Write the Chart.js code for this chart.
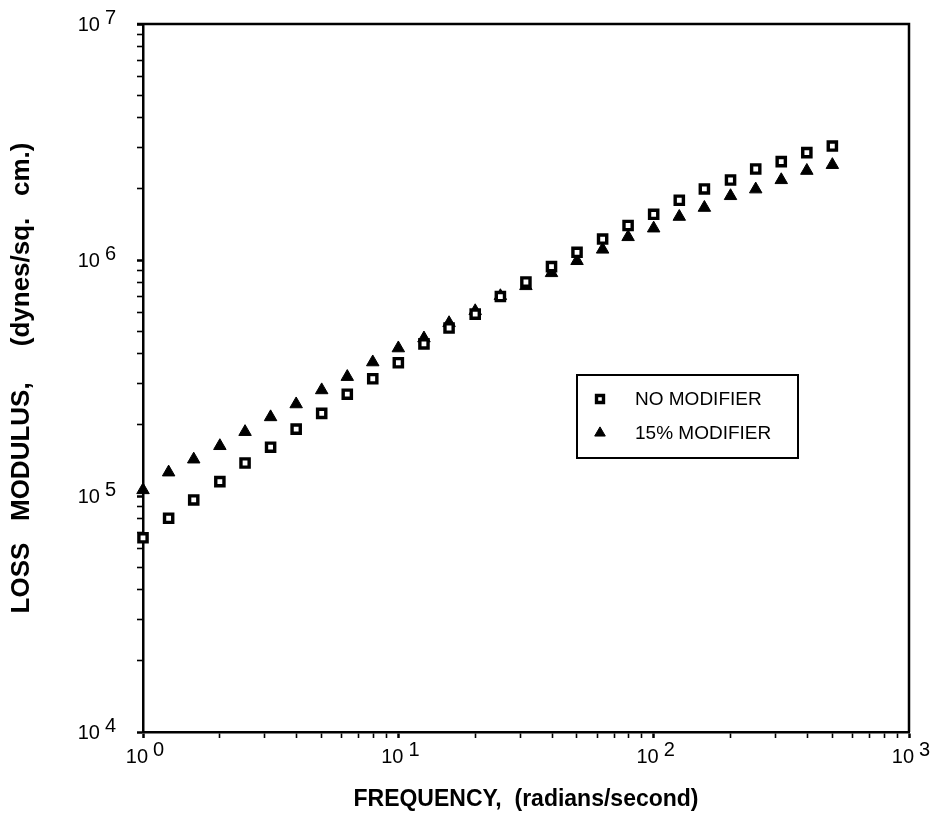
<!DOCTYPE html>
<html>
<head>
<meta charset="utf-8">
<script src="https://cdn.jsdelivr.net/npm/chart.js@4"></script>
<style>
  html, body { margin: 0; padding: 0; background: #fff; }
  #wrap { width: 940px; height: 823px; position: relative; }
</style>
</head>
<body>
<div id="wrap"><canvas id="c"></canvas></div>
<script>
// ---- data ----
const frequencies = [1, 1.26, 1.58, 2, 2.51, 3.16, 3.98, 5.01, 6.31, 7.94,
  10, 12.6, 15.8, 20, 25.1, 31.6, 39.8, 50.1, 63.1, 79.4,
  100, 126, 158, 200, 251, 316, 398, 501];
const noModifier = [66500, 80500, 96200, 115000, 138000, 161000, 192000, 224000, 270000, 314000,
  367000, 441000, 515000, 590000, 700000, 807000, 937000, 1078000, 1227000, 1400000,
  1562000, 1791000, 2000000, 2183000, 2430000, 2610000, 2850000, 3040000];
const modifier15 = [106000, 126000, 143000, 163000, 187000, 216000, 245000, 281000, 320000, 369000,
  423000, 466000, 541000, 608000, 704000, 776000, 881000, 991000, 1108000, 1252000,
  1362000, 1526000, 1666000, 1868000, 1994000, 2183000, 2390000, 2530000];
const seriesLabels = ['NO MODIFIER', '15% MODIFIER'];
const xDecades = [0, 1, 2, 3];
const yDecades = [4, 5, 6, 7];
const xTitle = 'FREQUENCY,  (radians/second)';
const yTitle = 'LOSS   MODULUS,     (dynes/sq.   cm.)';

const FONT = '"Liberation Sans", Arial, Helvetica, sans-serif';

function logTicks(scale) {
  const lo = Math.round(Math.log10(scale.min));
  const hi = Math.round(Math.log10(scale.max));
  const t = [];
  for (let d = lo; d <= hi; d++) {
    for (let m = 1; m <= 9; m++) {
      const v = m * Math.pow(10, d);
      if (v > scale.max * 1.0001) break;
      t.push({ value: v, major: m === 1 });
    }
  }
  scale.ticks = t;
}

const tickLabelPlugin = {
  id: 'tickLabels',
  afterDraw(chart) {
    const ctx = chart.ctx;
    const xs = chart.scales.x, ys = chart.scales.y;
    ctx.save();
    ctx.fillStyle = '#000';
    ctx.font = '20px ' + FONT;
    ctx.textBaseline = 'middle';
    ctx.textAlign = 'left';
    const gap = 5;
    // x axis labels
    xDecades.forEach(e => {
      const px = xs.getPixelForValue(Math.pow(10, e));
      const base = '10', exp = String(e);
      const wb = ctx.measureText(base).width, we = ctx.measureText(exp).width;
      const x0 = px - (wb + gap + we) / 2 + 2;
      const y0 = xs.top + 25;
      ctx.fillText(base, x0, y0);
      ctx.fillText(exp, x0 + wb + gap, y0 - 7);
    });
    // y axis labels
    yDecades.forEach(e => {
      const py = ys.getPixelForValue(Math.pow(10, e));
      const base = '10', exp = String(e);
      const wb = ctx.measureText(base).width, we = ctx.measureText(exp).width;
      const xr = ys.right - 27;
      ctx.fillText(exp, xr - we, py - 6);
      ctx.fillText(base, xr - we - gap - wb, py + 1);
    });
    ctx.restore();
  }
};

const framePlugin = {
  id: 'frame',
  beforeDatasetsDraw(chart) {
    const { ctx, chartArea: a } = chart;
    ctx.save();
    ctx.strokeStyle = '#000';
    ctx.lineWidth = 2.5;
    ctx.beginPath();
    ctx.moveTo(a.left - 6, a.top);
    ctx.lineTo(a.right, a.top);
    ctx.lineTo(a.right, a.bottom);
    ctx.stroke();
    ctx.restore();
  }
};

const legendPlugin = {
  id: 'boxLegend',
  afterDraw(chart) {
    const { ctx } = chart;
    const bx = 577, by = 375, bw = 221, bh = 83;
    ctx.save();
    ctx.strokeStyle = '#000';
    ctx.lineWidth = 2;
    ctx.strokeRect(bx, by, bw, bh);
    ctx.font = '19px ' + FONT;
    ctx.textBaseline = 'middle';
    const rows = [399, 433];
    chart.data.datasets.forEach((ds, i) => {
      const y = rows[i];
      ctx.fillStyle = ds.pointBackgroundColor;
      ctx.strokeStyle = ds.pointBorderColor;
      ctx.lineWidth = ds.pointBorderWidth;
      Chart.helpers.drawPoint(ctx, {
        pointStyle: ds.pointStyle,
        radius: ds.pointRadius * 0.85,
        rotation: 0,
        borderWidth: ds.pointBorderWidth
      }, 600, y);
      ctx.fillStyle = '#000';
      ctx.fillText(ds.label, 635, y + 1);
    });
    ctx.restore();
  }
};

const toPoints = (xsArr, ysArr) => xsArr.map((x, i) => ({ x, y: ysArr[i] }));

new Chart(document.getElementById('c'), {
  type: 'scatter',
  data: {
    datasets: [
      {
        label: seriesLabels[0],
        data: toPoints(frequencies, noModifier),
        pointStyle: 'rect',
        pointRadius: 5.8,
        pointBorderWidth: 3.4,
        pointBackgroundColor: '#fff',
        pointBorderColor: '#000',
        pointHoverRadius: 5.8,
        showLine: false,
        clip: false
      },
      {
        label: seriesLabels[1],
        data: toPoints(frequencies, modifier15),
        pointStyle: 'triangle',
        pointRadius: 7.2,
        pointBorderWidth: 1,
        pointBackgroundColor: '#000',
        pointBorderColor: '#000',
        pointHoverRadius: 7.2,
        showLine: false,
        clip: false
      }
    ]
  },
  options: {
    responsive: true,
    maintainAspectRatio: false,
    animation: false,
    events: [],
    layout: { padding: { top: 24, right: 31, left: 0, bottom: 0 } },
    plugins: {
      legend: { display: false },
      tooltip: { enabled: false },
      title: { display: false }
    },
    scales: {
      x: {
        type: 'logarithmic',
        position: 'bottom',
        min: 1,
        max: 1000,
        afterBuildTicks: logTicks,
        afterFit: s => { s.height = 91; },
        ticks: { display: false },
        grid: {
          drawOnChartArea: false,
          drawTicks: true,
          tickLength: 6,
          tickColor: '#000',
          tickWidth: c => (c.tick && c.tick.major ? 2.5 : 1.6)
        },
        border: { display: true, color: '#000', width: 2.5 },
        title: {
          display: true,
          text: xTitle,
          color: '#000',
          font: { family: FONT, size: 23, weight: 'bold' },
          padding: { top: 0, bottom: 10 }
        }
      },
      y: {
        type: 'logarithmic',
        position: 'left',
        min: 1e4,
        max: 1e7,
        afterBuildTicks: logTicks,
        afterFit: s => { s.width = 143; },
        ticks: { display: false },
        grid: {
          drawOnChartArea: false,
          drawTicks: true,
          tickLength: 6,
          tickColor: '#000',
          tickWidth: c => (c.tick && c.tick.major ? 2.5 : 1.6)
        },
        border: { display: true, color: '#000', width: 2.5 },
        title: {
          display: true,
          text: yTitle,
          color: '#000',
          font: { family: FONT, size: 26, weight: 'bold' },
          padding: { top: 6, bottom: 0 }
        }
      }
    }
  },
  plugins: [framePlugin, tickLabelPlugin, legendPlugin]
});
</script>
</body>
</html>
